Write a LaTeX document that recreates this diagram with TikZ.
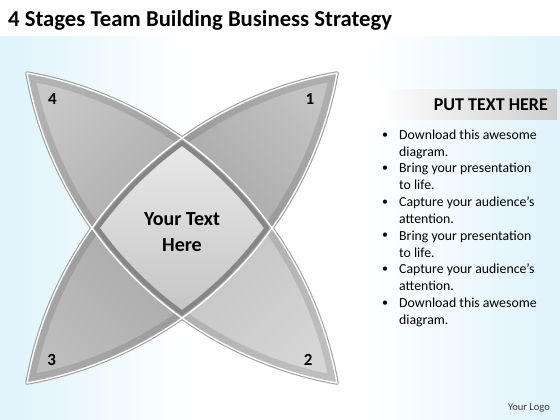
\documentclass[tikz,border=0pt]{standalone}
\usepackage{fontspec}
\setmainfont{Carlito}
\usetikzlibrary{calc}
\definecolor{bgblue}{RGB}{222,243,251}
\definecolor{hdrgray}{RGB}{206,206,206}
\definecolor{outgray}{RGB}{160,160,160}
\definecolor{ponel}{RGB}{196,196,196}
\definecolor{poned}{RGB}{168,168,168}
\definecolor{ptwol}{RGB}{214,214,214}
\definecolor{ptwod}{RGB}{196,196,196}
\definecolor{pthreel}{RGB}{190,190,190}
\definecolor{pthreed}{RGB}{170,170,170}
\definecolor{pfourl}{RGB}{200,200,200}
\definecolor{pfourd}{RGB}{174,174,174}
\definecolor{dtop}{RGB}{234,234,234}
\definecolor{dbot}{RGB}{196,196,196}
\definecolor{dborder}{RGB}{134,134,134}
\definecolor{dborderl}{RGB}{170,170,170}
\definecolor{logogray}{RGB}{60,60,60}
\def\R{382.8}
\tikzset{
  petalone/.style={insert path={(T) arc[start angle=-125.43,end angle=-100.07,radius=\R] arc[start angle=10.07,end angle=35.43,radius=\R] arc[start angle=-35.43,end angle=-54.57,radius=\R] -- cycle}},
  petaltwo/.style={insert path={(Rt) arc[start angle=-35.43,end angle=-10.07,radius=\R] arc[start angle=100.07,end angle=125.43,radius=\R] arc[start angle=54.57,end angle=35.43,radius=\R] -- cycle}},
  petalthree/.style={insert path={(Bm) arc[start angle=54.57,end angle=79.93,radius=\R] arc[start angle=-169.93,end angle=-144.57,radius=\R] arc[start angle=144.57,end angle=125.43,radius=\R] -- cycle}},
  petalfour/.style={insert path={(L) arc[start angle=144.57,end angle=169.93,radius=\R] arc[start angle=-79.93,end angle=-54.57,radius=\R] arc[start angle=-125.43,end angle=-144.57,radius=\R] -- cycle}},
  outerone/.style={insert path={(T) arc[start angle=-125.43,end angle=-100.07,radius=\R] arc[start angle=10.07,end angle=35.43,radius=\R]}},
  outertwo/.style={insert path={(Rt) arc[start angle=-35.43,end angle=-10.07,radius=\R] arc[start angle=100.07,end angle=125.43,radius=\R]}},
  outerthree/.style={insert path={(Bm) arc[start angle=54.57,end angle=79.93,radius=\R] arc[start angle=-169.93,end angle=-144.57,radius=\R]}},
  outerfour/.style={insert path={(L) arc[start angle=144.57,end angle=169.93,radius=\R] arc[start angle=-79.93,end angle=-54.57,radius=\R]}},
  diamondpath/.style={insert path={(T) arc[start angle=-54.57,end angle=-35.43,radius=\R] arc[start angle=35.43,end angle=54.57,radius=\R] arc[start angle=125.43,end angle=144.57,radius=\R] arc[start angle=-144.57,end angle=-125.43,radius=\R] -- cycle}},
  lensa/.style={insert path={(TL) arc[start angle=-79.93,end angle=-10.07,radius=\R] arc[start angle=100.07,end angle=169.93,radius=\R] -- cycle}},
  lensb/.style={insert path={(TR) arc[start angle=-100.07,end angle=-169.93,radius=\R] arc[start angle=79.93,end angle=10.07,radius=\R] -- cycle}},
  rim/.style={draw=black, draw opacity=0.11, line width=15pt},
  numlabel/.style={inner sep=0pt, font=\fontsize{17}{20}\selectfont\bfseries},
  bulline/.style={anchor=base west, inner sep=0pt, font=\fontsize{13.8}{16}\selectfont},
  bulmark/.style={inner sep=0pt, font=\fontsize{12}{14}\selectfont},
}
\begin{document}
\begin{tikzpicture}[x=1pt,y=-1pt]
\useasboundingbox (0,0) rectangle (560,420);
% background
\fill[white] (0,0) rectangle (560,420);
\shade[left color=bgblue, right color=white] (0,37) rectangle (190,420);
\shade[left color=white, right color=bgblue] (370,37) rectangle (560,420);
\shade[left color=white, right color=hdrgray] (378,90) rectangle (557,119);
% geometry
\coordinate (cA1) at (-39.944,449.944);
\coordinate (cA2) at (403.944,6.056);
\coordinate (cB1) at (403.944,449.944);
\coordinate (cB2) at (-39.944,6.056);
\coordinate (T) at ($(cA1)+(-54.57:\R)$);
\coordinate (Rt) at ($(cA1)+(-35.43:\R)$);
\coordinate (Bm) at ($(cB2)+(54.57:\R)$);
\coordinate (L) at ($(cA2)+(144.57:\R)$);
\coordinate (TL) at ($(cA1)+(-79.93:\R)$);
\coordinate (TR) at ($(cB1)+(-100.07:\R)$);
\coordinate (BL) at ($(cB2)+(79.93:\R)$);
\coordinate (BR) at ($(cA1)+(-10.07:\R)$);
% outer gray outline
\draw[outgray, line width=3.6pt, line join=round, lensa];
\draw[outgray, line width=3.6pt, line join=round, lensb];
% petals
\shade[top color=ponel, bottom color=poned, shading angle=-45, petalone];
\shade[top color=ptwol, bottom color=ptwod, shading angle=-135, petaltwo];
\shade[top color=pthreel, bottom color=pthreed, shading angle=135, petalthree];
\shade[top color=pfourl, bottom color=pfourd, shading angle=45, petalfour];
\begin{scope}\path[clip, petalone]; \path[rim, outerone]; \end{scope}
\begin{scope}\path[clip, petaltwo]; \path[rim, outertwo]; \end{scope}
\begin{scope}\path[clip, petalthree]; \path[rim, outerthree]; \end{scope}
\begin{scope}\path[clip, petalfour]; \path[rim, outerfour]; \end{scope}
% diamond
\shade[top color=dtop, bottom color=dbot, diamondpath];
\begin{scope}
\path[clip, diamondpath];
\draw[dborder, line width=13pt, line join=round, diamondpath];
\draw[dborderl, line width=3.5pt, line join=round, diamondpath];
\end{scope}
% white lines
\draw[white, line width=1.4pt, line join=round, lensa];
\draw[white, line width=1.4pt, line join=round, lensb];
% texts
\node[anchor=base west, inner sep=0pt, font=\fontsize{22.7}{27}\selectfont\bfseries] (title) at (8,27) {4 Stages Team Building Business Strategy};
\node[inner sep=0pt, font=\fontsize{20}{26}\selectfont\bfseries, anchor=base] (ctext) at (182,225) {Your Text};
\node[inner sep=0pt, font=\fontsize{20}{26}\selectfont\bfseries, anchor=base] (ctext2) at (182,251) {Here};
\node[numlabel] (n4) at (52.5,98.5) {4};
\node[numlabel] (n1) at (310,98.5) {1};
\node[numlabel] (n3) at (51.7,360) {3};
\node[numlabel] (n2) at (308.3,359.5) {2};
\node[anchor=base east, inner sep=0pt, font=\fontsize{18}{22}\selectfont\bfseries] (hdr) at (548,110.5) {PUT TEXT HERE};
\node[bulmark] (m1) at (385,135.3) {\textbullet};
\node[bulline] (l1a) at (399,139.3) {Download this awesome};
\node[bulline] (l1b) at (399,156.1) {diagram.};
\node[bulmark] (m2) at (385,168.9) {\textbullet};
\node[bulline] (l2a) at (399,172.9) {Bring your presentation};
\node[bulline] (l2b) at (399,189.8) {to life.};
\node[bulmark] (m3) at (385,202.6) {\textbullet};
\node[bulline] (l3a) at (399,206.6) {Capture your audience’s};
\node[bulline] (l3b) at (399,223.4) {attention.};
\node[bulmark] (m4) at (385,236.2) {\textbullet};
\node[bulline] (l4a) at (399,240.2) {Bring your presentation};
\node[bulline] (l4b) at (399,257.0) {to life.};
\node[bulmark] (m5) at (385,269.8) {\textbullet};
\node[bulline] (l5a) at (399,273.8) {Capture your audience’s};
\node[bulline] (l5b) at (399,290.6) {attention.};
\node[bulmark] (m6) at (385,303.4) {\textbullet};
\node[bulline] (l6a) at (399,307.4) {Download this awesome};
\node[bulline] (l6b) at (399,324.3) {diagram.};
\node[anchor=base east, inner sep=0pt, text=logogray, font=\fontsize{10.5}{12}\selectfont] (logo) at (550,410) {Your Logo};
\end{tikzpicture}
\end{document}
